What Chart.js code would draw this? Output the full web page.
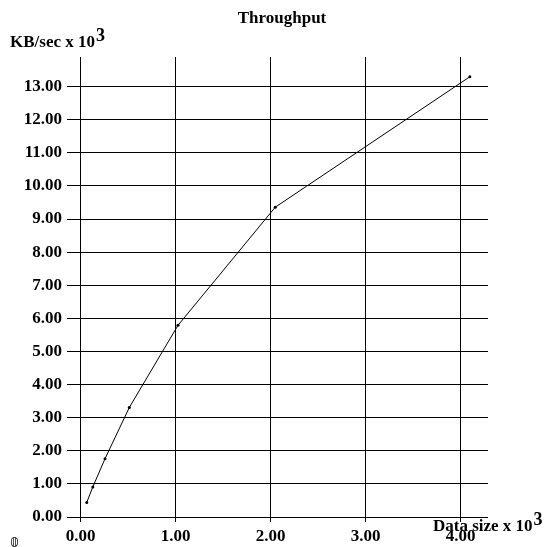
<!DOCTYPE html>
<html lang="en">
<head>
    <meta charset="UTF-8">
    <title>Throughput</title>
    <script src="https://cdn.jsdelivr.net/npm/chart.js@4.4.0/dist/chart.umd.min.js"></script>
    <style>
        body {
            margin: 0;
            background-color: #fff;
        }
        .wrap {
            width: 551px;
            height: 547px;
        }
    </style>
</head>
<body>
    <div class="wrap">
        <canvas id="chart1" width="551" height="547"></canvas>
    </div>

    <script>
        // data size (x 10^3) and throughput (KB/sec x 10^3)
        const dataSizes = [0.064, 0.128, 0.256, 0.512, 1.024, 2.048, 4.096];
        const throughput = [0.44, 0.91, 1.76, 3.31, 5.79, 9.36, 13.30];
        const xTicks = [0, 1, 2, 3, 4];
        const yTicks = [0, 1, 2, 3, 4, 5, 6, 7, 8, 9, 10, 11, 12, 13];

        const serif = "'Liberation Serif', 'Times New Roman', serif";

        // title and axis captions with the superscript exponent
        const captions = {
            id: 'captions',
            afterDraw(chart) {
                const c = chart.ctx;
                c.save();
                c.fillStyle = '#000';
                c.textBaseline = 'alphabetic';
                c.font = 'bold 17px ' + serif;
                c.textAlign = 'center';
                c.fillText('Throughput', 282, 23);

                c.textAlign = 'left';
                let w = c.measureText('KB/sec x 10').width;
                c.fillText('KB/sec x 10', 10, 47);
                c.font = 'bold 18px ' + serif;
                c.fillText('3', 10 + w + 1, 41);

                c.font = 'bold 17px ' + serif;
                w = c.measureText('Data size x 10').width;
                c.fillText('Data size x 10', 433, 531);
                c.font = 'bold 18px ' + serif;
                c.fillText('3', 433 + w + 1, 525);

                c.font = '14px DejaVu Sans';
                c.fillText('\u{1D7D8}', 10, 547);
                c.restore();
            }
        };

        const ctx1 = document.getElementById('chart1').getContext('2d');
        const throughputChart = new Chart(ctx1, {
            type: 'line',
            data: {
                datasets: [{
                    label: 'Throughput',
                    data: dataSizes.map((x, i) => ({ x: x, y: throughput[i] })),
                    borderColor: '#000',
                    backgroundColor: '#000',
                    borderWidth: 1,
                    pointRadius: 1.5,
                    pointBorderWidth: 0,
                    tension: 0
                }]
            },
            options: {
                responsive: false,
                animation: false,
                layout: { padding: { top: 57, right: 63, left: 0, bottom: 0 } },
                plugins: {
                    legend: { display: false },
                    title: { display: false },
                    tooltip: { enabled: false }
                },
                scales: {
                    x: {
                        type: 'linear',
                        min: -0.144,
                        max: 4.287,
                        border: { display: false },
                        grid: { color: '#000', lineWidth: 1, drawTicks: false },
                        ticks: {
                            color: '#000',
                            padding: 4,
                            font: { family: serif, size: 17, weight: 'bold' },
                            callback: v => v.toFixed(2)
                        },
                        afterBuildTicks: s => { s.ticks = xTicks.map(v => ({ value: v })); },
                        afterFit: s => { s.height = 25; }
                    },
                    y: {
                        type: 'linear',
                        min: -0.151,
                        max: 13.897,
                        border: { display: false },
                        grid: { color: '#000', lineWidth: 1, drawTicks: false },
                        ticks: {
                            color: '#000',
                            padding: 5,
                            font: { family: serif, size: 17, weight: 'bold' },
                            callback: v => v.toFixed(2)
                        },
                        afterBuildTicks: s => { s.ticks = yTicks.map(v => ({ value: v })); },
                        afterFit: s => { s.width = 67; }
                    }
                }
            },
            plugins: [captions]
        });
    </script>
</body>
</html>
